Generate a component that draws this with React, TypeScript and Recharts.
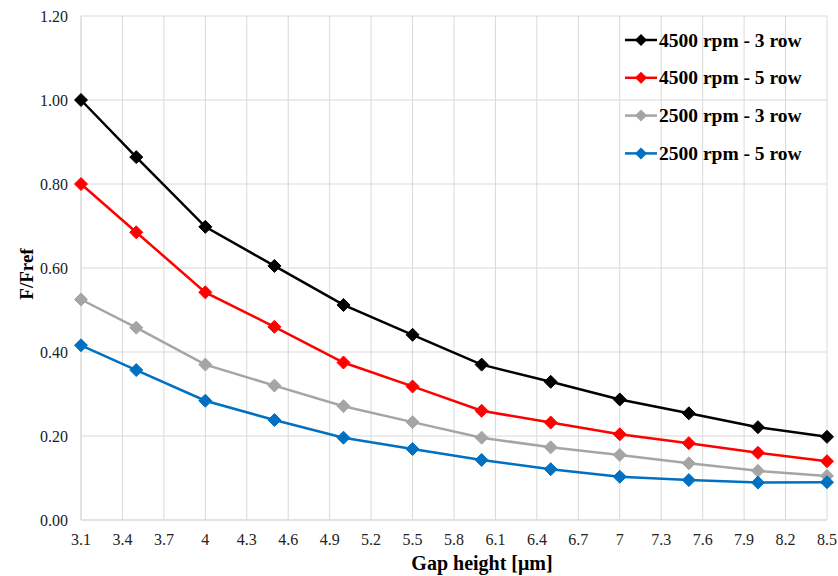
import React from "react";
import { LineChart, Line, XAxis, YAxis, CartesianGrid } from "recharts";

const gaps = [3.1, 3.5, 4, 4.5, 5, 5.5, 6, 6.5, 7, 7.5, 8, 8.5];
const rpm4500row3 = [1.0, 0.864, 0.698, 0.605, 0.512, 0.441, 0.370, 0.329, 0.287, 0.254, 0.221, 0.198];
const rpm4500row5 = [0.80, 0.685, 0.542, 0.460, 0.375, 0.318, 0.260, 0.232, 0.204, 0.183, 0.160, 0.140];
const rpm2500row3 = [0.525, 0.458, 0.370, 0.320, 0.271, 0.233, 0.196, 0.173, 0.155, 0.135, 0.117, 0.105];
const rpm2500row5 = [0.416, 0.357, 0.284, 0.238, 0.196, 0.169, 0.143, 0.121, 0.103, 0.095, 0.089, 0.090];
const xTicks = [3.1, 3.4, 3.7, 4, 4.3, 4.6, 4.9, 5.2, 5.5, 5.8, 6.1, 6.4, 6.7, 7, 7.3, 7.6, 7.9, 8.2, 8.5];
const yTicks = [0, 0.2, 0.4, 0.6, 0.8, 1.0, 1.2];

const series = [
  { key: "a", name: "4500 rpm - 3 row", color: "#000000", values: rpm4500row3 },
  { key: "b", name: "4500 rpm - 5 row", color: "#ff0000", values: rpm4500row5 },
  { key: "c", name: "2500 rpm - 3 row", color: "#a5a5a5", values: rpm2500row3 },
  { key: "d", name: "2500 rpm - 5 row", color: "#0070c0", values: rpm2500row5 },
];

const data = gaps.map((g, i) => {
  const row: Record<string, number> = { gap: g };
  series.forEach((s) => (row[s.key] = s.values[i]));
  return row;
});

const FONT = "'Liberation Serif', 'Times New Roman', serif";
const GRID = "#d9d9d9";

const Diamond = (props: any) => {
  const { cx, cy, stroke } = props;
  if (cx == null || cy == null) return null;
  const r = 6.5;
  return (
    <polygon
      points={`${cx},${cy - r} ${cx + r},${cy} ${cx},${cy + r} ${cx - r},${cy}`}
      fill={stroke}
      stroke={stroke}
    />
  );
};

// legend drawn on top of the plot, like the excel one
const LegendBox = () => (
  <svg
    width={210}
    height={150}
    style={{ position: "absolute", left: 625, top: 26, overflow: "visible" }}
  >
    {series.map((s, i) => {
      const y = 14 + i * 37.8;
      return (
        <g key={s.key}>
          <line x1={0} x2={32} y1={y} y2={y} stroke={s.color} strokeWidth={2.5} />
          <polygon points={`16,${y - 6} 22,${y} 16,${y + 6} 10,${y}`} fill={s.color} />
          <text x={34} y={y + 6.5} fontFamily={FONT} fontWeight="bold" fontSize={19.5} fill="#000">
            {s.name}
          </text>
        </g>
      );
    })}
  </svg>
);

export default function App() {
  return (
    <div style={{ position: "absolute", left: 0, top: 0, width: 838, height: 576, background: "#fff" }}>
      <LineChart
        width={838}
        height={576}
        data={data}
        margin={{ top: 16, right: 11, left: 0, bottom: 0 }}
      >
        <CartesianGrid stroke={GRID} strokeWidth={1} vertical horizontal />
        <XAxis
          dataKey="gap"
          type="number"
          domain={[3.1, 8.5]}
          ticks={xTicks}
          interval={0}
          height={56}
          axisLine={{ stroke: GRID }}
          tickLine={false}
          tickSize={6}
          tickMargin={8}
          tick={{ fontFamily: FONT, fontSize: 16, fill: "#222" }}
          label={{
            value: "Gap height [μm]",
            position: "insideBottom",
            offset: 6,
            dx: 28,
            style: { fontFamily: FONT, fontWeight: "bold", fontSize: 20, fill: "#000" },
          }}
        />
        <YAxis
          type="number"
          domain={[0, 1.2]}
          ticks={yTicks}
          width={81}
          axisLine={{ stroke: GRID }}
          tickLine={false}
          tickSize={6}
          tickMargin={7}
          tickFormatter={(v: number) => v.toFixed(2)}
          tick={{ fontFamily: FONT, fontSize: 16, fill: "#222" }}
          label={{
            value: "F/Fref",
            angle: -90,
            position: "insideLeft",
            offset: 26,
            dy: 6,
            style: { fontFamily: FONT, fontWeight: "bold", fontSize: 19, fill: "#000", textAnchor: "middle" },
          }}
        />
        {series.map((s) => (
          <Line
            key={s.key}
            dataKey={s.key}
            name={s.name}
            type="linear"
            stroke={s.color}
            strokeWidth={2.5}
            dot={<Diamond />}
            activeDot={false}
            isAnimationActive={false}
          />
        ))}
      </LineChart>
      <LegendBox />
    </div>
  );
}
